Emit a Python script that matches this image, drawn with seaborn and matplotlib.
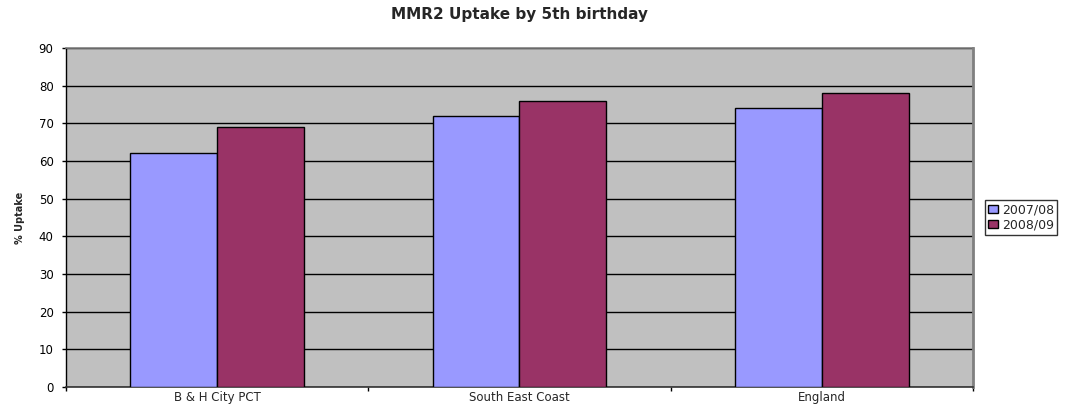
import seaborn as sns
import matplotlib.pyplot as plt
import numpy as np
import pandas as pd

areas = ['B & H City PCT', 'South East Coast', 'England']
years = ['2007/08', '2008/09']
uptake_0708 = [62, 72, 74]
uptake_0809 = [69, 76, 78]
colours = ['#9999ff', '#993366']

df = pd.DataFrame({
    'area': areas * 2,
    'year': [years[0]] * 3 + [years[1]] * 3,
    'uptake': uptake_0708 + uptake_0809,
})

sns.set_style('white')
plt.rcParams['font.family'] = ['DejaVu Sans']

fig = plt.figure(figsize=(10.69, 4.05), dpi=100)
ax = fig.add_axes([66 / 1069, 18 / 405, 907 / 1069, 339 / 405])
ax.set_facecolor('#c0c0c0')

sns.barplot(data=df, x='area', y='uptake', hue='year', palette=colours,
            width=0.575, edgecolor='black', linewidth=1, saturation=1, ax=ax, zorder=3)

ax.set_xlim(-0.5, len(areas) - 0.5)
ax.set_ylim(0, 90)
ax.set_yticks(np.arange(0, 91, 10))
ax.grid(axis='y', color='black', linewidth=1, zorder=0)
ax.set_axisbelow(True)
for s in ax.spines.values():
    s.set_color('#808080')
    s.set_linewidth(1.2)
ax.spines['right'].set_linewidth(2)
ax.spines['left'].set_color('black')
ax.spines['left'].set_linewidth(1)
ax.spines['bottom'].set_color('#333333')

# category ticks sit between the groups, labels in the middle
ax.set_xticks(np.arange(-0.5, len(areas), 1), minor=True)
ax.tick_params(axis='x', which='major', length=0, pad=3, labelsize=8.5)
ax.tick_params(axis='x', which='minor', length=3, width=1, direction='out',
               bottom=True, colors='black')
ax.tick_params(axis='y', labelsize=8.5, length=3, pad=6, width=1, direction='out',
               left=True, colors='black')
ax.set_xlabel('')
ax.set_ylabel('% Uptake', fontsize=7, fontweight='bold', labelpad=10)
ax.set_title('MMR2 Uptake by 5th birthday', fontsize=11, fontweight='bold', pad=21)

leg = ax.legend(loc='center left', bbox_to_anchor=(1.013, 0.5), fontsize=9,
                frameon=True, fancybox=False, edgecolor='black', borderpad=0.25,
                handlelength=0.8, handleheight=0.6, handletextpad=0.3, labelspacing=0.15,
                borderaxespad=0)
leg.get_frame().set_linewidth(1)

fig.savefig('out.png', dpi=100)
